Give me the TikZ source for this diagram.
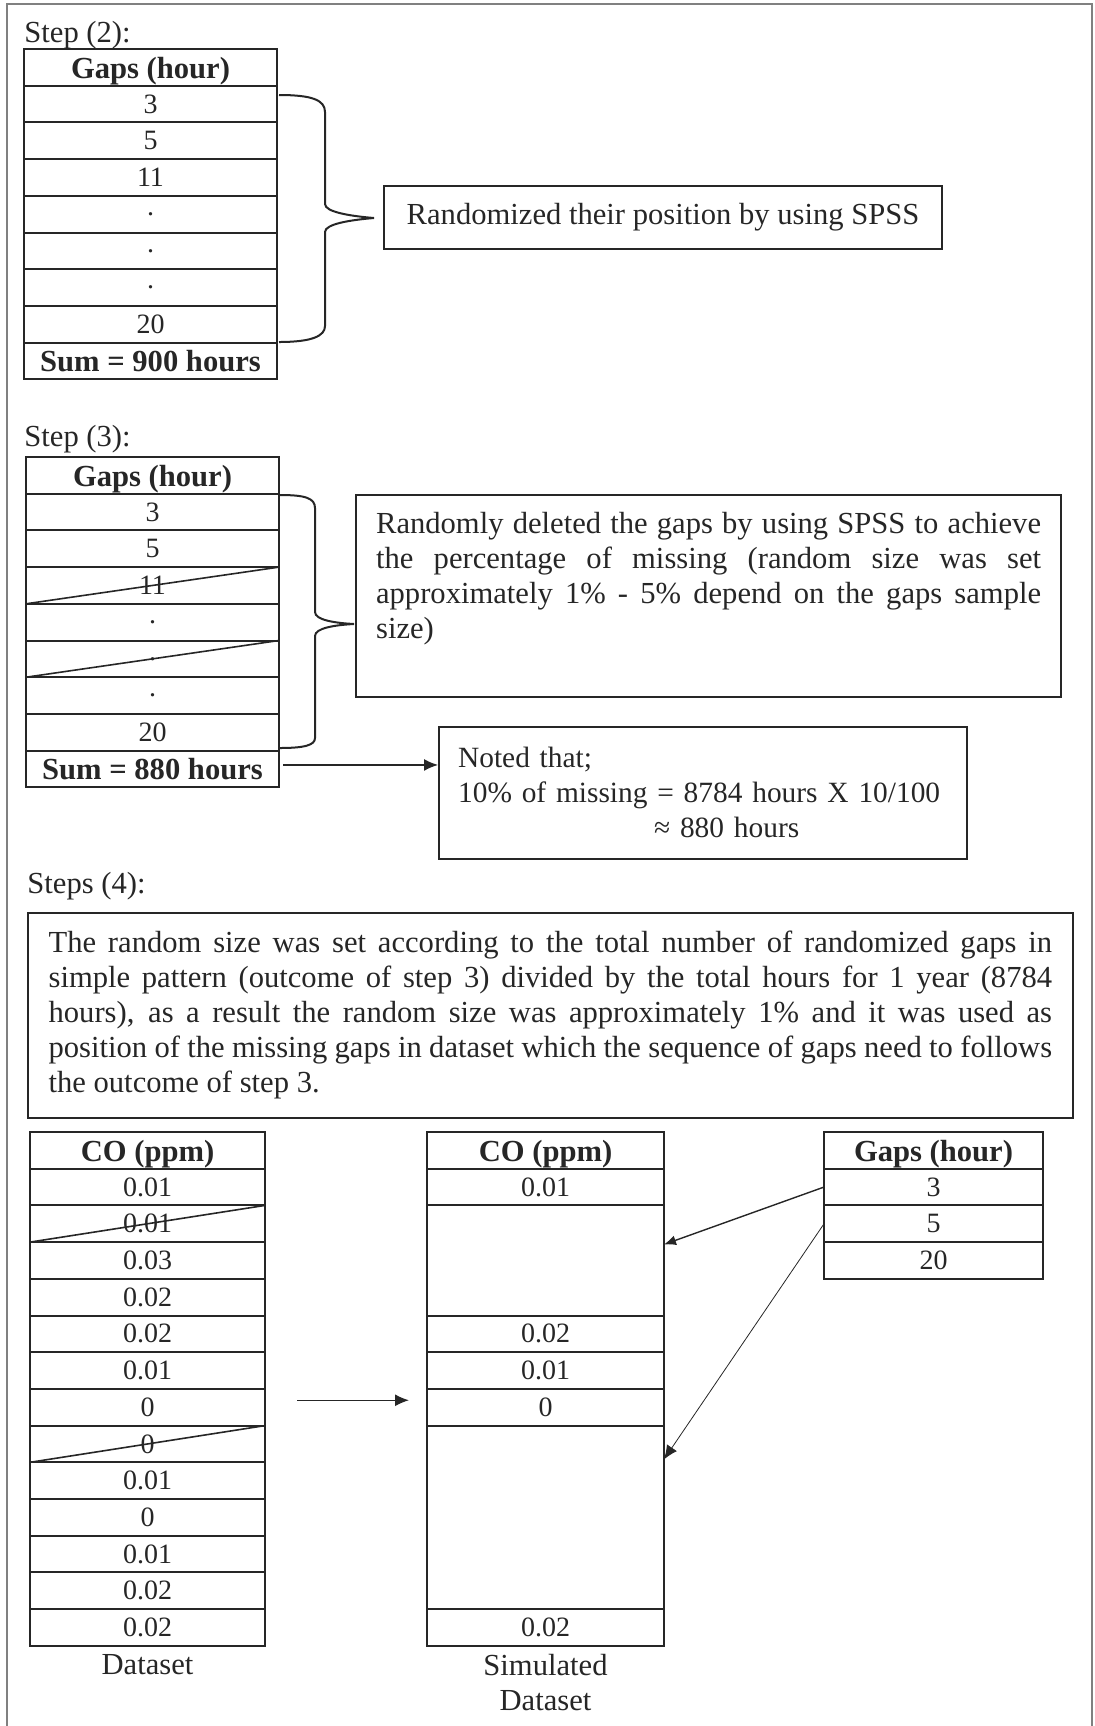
\documentclass[tikz,border=0pt]{standalone}
\usepackage{fontspec}
\setmainfont{Liberation Serif}
\usetikzlibrary{positioning,arrows.meta}

\begin{document}
\begin{tikzpicture}[x=0.5pt, y=-0.5pt, color=black!85, font=\fontsize{15.3}{17.5}\selectfont,
        cell/.style={draw, line width=1pt, inner sep=0pt, outer sep=0pt, minimum height=18.35pt},
        val/.style={font=\fontsize{14}{16}\selectfont},
        head/.style={font=\fontsize{15.3}{17.5}\selectfont\bfseries, text height=11pt, text depth=0pt},
        txtbox/.style={draw, line width=1.1pt, inner ysep=0pt, align=justify, anchor=base west},
        steplabel/.style={inner sep=0pt, anchor=base west},
        strike/.style={line width=0.8pt},
        arr/.style={-{Latex[length=7pt,width=6pt]}, line width=0.7pt}]
        \useasboundingbox (0,0) rectangle (1095,1726);
        \draw[black!50, line width=0.8pt] (7,1726) -- (7,4) -- (1092,4) -- (1092,1726);

        \node[steplabel] (lab2) at (24,42) {Step (2):};
        \node[cell, head, minimum width=126.5pt, anchor=north] (a0) at (150.5,49) {Gaps (hour)};
        \foreach \v [count=\i] in {3,5,11,.,.,.,20} {
            \pgfmathtruncatemacro\j{\i-1}
            \node[cell, val, minimum width=126.5pt, below=0pt of a\j] (a\i) {\v};
        }
        \node[cell, head, minimum width=126.5pt, below=0pt of a7] (a8) {Sum = 900 hours};
        \draw[line width=1pt] (279,95) .. controls (312,95) and (325,100) .. (325,112) -- (325,204)
            .. controls (325,212) and (350,216) .. (374,218) .. controls (350,220) and (325,224) .. (325,232)
            -- (325,326) .. controls (325,336) and (312,342) .. (279,342);
        \node[draw, line width=1.1pt, minimum width=279pt, minimum height=31.5pt, inner sep=0pt] (rand) at (663,217.5) {Randomized their position by using SPSS};

        \node[steplabel] (lab3) at (24,446) {Step (3):};
        \node[cell, head, minimum width=126.5pt, anchor=north] (b0) at (152.5,457) {Gaps (hour)};
        \foreach \v [count=\i] in {3,5,11,.,.,.,20} {
            \pgfmathtruncatemacro\j{\i-1}
            \node[cell, val, minimum width=126.5pt, below=0pt of b\j] (b\i) {\v};
        }
        \node[cell, head, minimum width=126.5pt, below=0pt of b7] (b8) {Sum = 880 hours};
        \draw[strike] (b3.south west) -- (b3.north east);
        \draw[strike] (b5.south west) -- (b5.north east);
        \draw[line width=1pt] (280,495) .. controls (305,495) and (315,498) .. (315,508) -- (315,612)
            .. controls (315,620) and (335,623) .. (354,624) .. controls (335,625) and (315,628) .. (315,636)
            -- (315,738) .. controls (315,745) and (305,748) .. (280,748);
        \node[txtbox, text width=332.5pt, inner xsep=10pt, text height=19pt, text depth=82pt] (del) at (355,533)
            {\sloppy Randomly deleted the gaps by using SPSS to achieve\linebreak the percentage of missing (random size was set\linebreak approximately 1\% - 5\% depend on the gaps sample\linebreak size)};
        \node[txtbox, align=left, text width=245pt, inner xsep=9.5pt, text height=20pt, text depth=46pt,
            font=\fontsize{14.7}{17.5}\selectfont] (note) at (438,767)
            {Noted that;\\\mbox{10\% of missing = 8784 hours X 10/100}\\\hspace*{98pt}≈ 880 hours};
        \draw[arr, shorten <=2pt] ([yshift=2pt]b8.east) -- ([yshift=2pt]b8.east -| note.west);

        \node[steplabel] (lab4) at (27,893) {Steps (4):};
        \node[txtbox, text width=501.75pt, inner xsep=10.25pt, text height=19.5pt, text depth=83pt] (rule) at (27,952)
            {\sloppy The random size was set according to the total number of randomized gaps in\linebreak simple pattern (outcome of step 3) divided by the total hours for 1 year (8784\linebreak hours), as a result the random size was approximately 1\% and it was used as\linebreak position of the missing gaps in dataset which the sequence of gaps need to follows\linebreak the outcome of step 3.};

        \node[cell, head, minimum width=117.5pt, anchor=north] (d0) at (147.5,1132) {CO (ppm)};
        \foreach \v [count=\i] in {0.01,0.01,0.03,0.02,0.02,0.01,0,0,0.01,0,0.01,0.02,0.02} {
            \pgfmathtruncatemacro\j{\i-1}
            \node[cell, val, minimum width=117.5pt, below=0pt of d\j] (d\i) {\v};
        }
        \draw[strike] (d2.south west) -- (d2.north east);
        \draw[strike] (d8.south west) -- (d8.north east);
        \node[below=4pt of d13, inner sep=0pt] (dlab) {Dataset};

        \node[cell, head, minimum width=118.5pt, anchor=north] (s0) at (545.5,1132) {CO (ppm)};
        \foreach \h/\v [count=\i] in {1/0.01,3/{},1/0.02,1/0.01,1/0,5/{},1/0.02} {
            \pgfmathtruncatemacro\j{\i-1}
            \node[cell, val, minimum width=118.5pt, minimum height=\h*18.35pt, below=0pt of s\j] (s\i) {\v};
        }
        \node[below=4pt of s7, inner sep=0pt, align=center] (slab) {Simulated\\Dataset};

        \node[cell, head, minimum width=109.5pt, anchor=north] (g0) at (933.5,1132) {Gaps (hour)};
        \foreach \v [count=\i] in {3,5,20} {
            \pgfmathtruncatemacro\j{\i-1}
            \node[cell, val, minimum width=109.5pt, below=0pt of g\j] (g\i) {\v};
        }

        \draw[arr, shorten <=16pt, shorten >=9pt] ([yshift=3.5pt]d7.east) -- ([yshift=3.5pt]s5.west);
        \draw[arr, -{Latex[length=6pt,width=5pt]}] (g1.west) -- ([yshift=8pt]s2.east);
        \draw[arr, line width=0.4pt] (g2.west) -- ([yshift=29pt]s6.east);
    \end{tikzpicture}
\end{document}
